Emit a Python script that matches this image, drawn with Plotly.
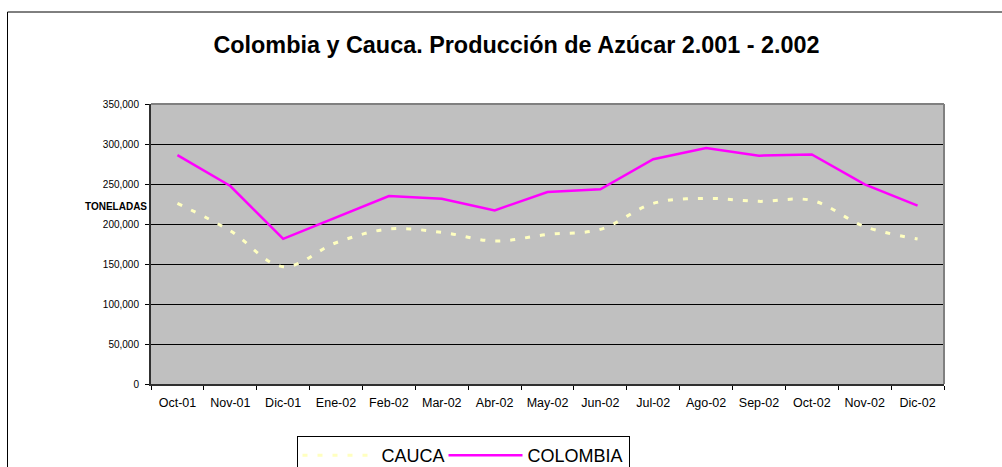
import plotly.graph_objects as go

categories = ["Oct-01", "Nov-01", "Dic-01", "Ene-02", "Feb-02", "Mar-02", "Abr-02",
              "May-02", "Jun-02", "Jul-02", "Ago-02", "Sep-02", "Oct-02", "Nov-02", "Dic-02"]
cauca = [225800, 191500, 146700, 176600, 193700, 189600, 178700, 187000,
         193300, 225800, 232000, 228300, 229500, 196700, 181300]
colombia = [286000, 247500, 181500, 208500, 235000, 231500, 217000, 240000,
            243300, 281000, 295000, 285400, 287000, 249600, 222900]
y_ticks = [0, 50000, 100000, 150000, 200000, 250000, 300000, 350000]

FONT = "Liberation Sans, Arial, sans-serif"

fig = go.Figure()
fig.add_trace(go.Scatter(
    x=categories, y=cauca, name="CAUCA", mode="lines",
    line=dict(color="#FFFFC0", width=3, dash="5px,10px", shape="spline", smoothing=1.0),
    legendwidth=57,
))
fig.add_trace(go.Scatter(
    x=categories, y=colombia, name="COLOMBIA", mode="lines",
    line=dict(color="#FF00FF", width=2.5),
))

W, H = 1002, 467
L, R, T, B = 151, 944, 104, 384
PW, PH = R - L, B - T

fig.update_layout(
    width=W, height=H,
    margin=dict(l=L, r=W - R, t=T, b=H - B, pad=0, autoexpand=False),
    paper_bgcolor="white",
    plot_bgcolor="#C0C0C0",
    font=dict(family=FONT, color="black"),
    title=dict(
        text="<b>Colombia y Cauca. Producción de Azúcar 2.001 - 2.002</b>",
        font=dict(size=23.4, family=FONT, color="black"),
        x=516.5 / W, xanchor="center", xref="container",
        y=1 - 45 / H, yanchor="middle", yref="container",
    ),
    showlegend=True,
    legend=dict(
        orientation="h",
        x=(296.5 - L) / PW, xanchor="left",
        y=(B - 436) / PH, yanchor="top",
        bgcolor="white", bordercolor="black", borderwidth=1,
        font=dict(size=18, family=FONT, color="black"),
        itemwidth=74,
        traceorder="normal",
    ),
    xaxis=dict(
        type="category",
        range=[-0.5, len(categories) - 0.5],
        showgrid=False,
        ticks="outside", tickson="boundaries", ticklen=4, tickcolor="black",
        ticklabelstandoff=6,
        showline=True, linecolor="#303030", linewidth=2,
        tickfont=dict(size=12.5, family=FONT, color="black"),
        zeroline=False,
        fixedrange=True,
    ),
    yaxis=dict(
        range=[0, 350000],
        tickvals=y_ticks,
        tickformat=",",
        showgrid=True, gridcolor="black", gridwidth=1,
        ticks="outside", ticklen=4, tickcolor="black",
        ticklabelstandoff=4,
        showline=True, linecolor="#303030", linewidth=2,
        tickfont=dict(size=10, family=FONT, color="black"),
        zeroline=False,
        fixedrange=True,
    ),
)

# plot-area top/right border (gray)
fig.add_shape(type="line", xref="paper", yref="paper", x0=0, x1=1, y0=1, y1=1,
              line=dict(color="#808080", width=2))
fig.add_shape(type="line", xref="paper", yref="paper", x0=1, x1=1, y0=0, y1=1,
              line=dict(color="#808080", width=2))

# outer chart border (clipped at right/bottom in the reference)
fig.add_shape(type="rect", xref="paper", yref="paper",
              x0=(7.5 - L) / PW, x1=(1010 - L) / PW,
              y0=(B - 480) / PH, y1=(B - 12) / PH,
              line=dict(color="black", width=1), fillcolor="rgba(0,0,0,0)", layer="below")

fig.add_annotation(
    text="<b>TONELADAS</b>", xref="paper", yref="paper",
    x=(149 - L) / PW, xanchor="right",
    y=(B - 206.7) / PH, yanchor="middle",
    showarrow=False, font=dict(size=10, family=FONT, color="black"),
)

fig.write_html(
    "out.html",
    config={"displayModeBar": False},
    post_script="document.body.style.margin='0';document.body.style.overflow='hidden';",
)
